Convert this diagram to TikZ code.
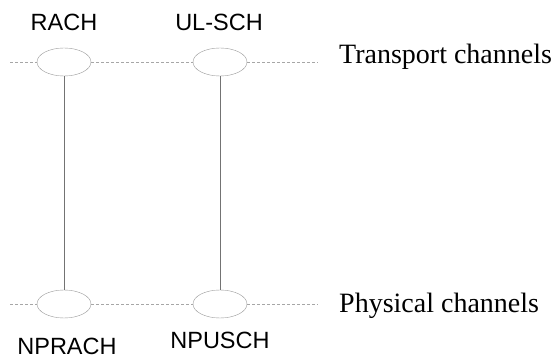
\documentclass[tikz,border=0pt]{standalone}
\usepackage{fontspec}
\setmainfont{Liberation Serif}
\setsansfont{Liberation Sans}
\usetikzlibrary{shapes.geometric, positioning}

\tikzset{
    canale/.style = {ellipse, draw = gray!80, minimum width = 54pt, minimum height = 28pt, inner sep = 0pt},
    livello/.style = {dashed, dash pattern = on 3pt off 2pt, draw = gray!70, line width = 0.6pt},
    legame/.style = {draw = gray!90!black, line width = 0.6pt},
    nome/.style = {font = \sffamily\fontsize{23.5}{25}\selectfont, inner sep = 0pt},
    strato/.style = {font = \fontsize{28}{30}\selectfont, anchor = west, inner sep = 0pt}
}

\begin{document}
\begin{tikzpicture}[x = 1pt, y = -1pt]
    % Parametri (aiuto)
    \pgfmathsetmacro{\ytr}{62}
    \pgfmathsetmacro{\yph}{304}
    \useasboundingbox (0,0) rectangle (555,358);
    % canali di trasporto
    \coordinate (trA) at (10,\ytr);
    \coordinate (trB) at (318,\ytr);
    \node[canale] (rach) at (64,\ytr) {};
    \node[canale] (ulsch) at (220,\ytr) {};
    \node[nome] (rachT) at (64,22) {RACH};
    \node[nome] (ulschT) at (219,22) {UL-SCH};
    \node[strato] (trT) at (339,57) {Transport channels};
    % canali fisici
    \coordinate (phA) at (10,\yph);
    \coordinate (phB) at (318,\yph);
    \node[canale] (nprach) at (64,\yph) {};
    \node[canale] (npusch) at (220,\yph) {};
    \node[nome] (nprachT) at (67,346) {NPRACH};
    \node[nome] (npuschT) at (220,340) {NPUSCH};
    \node[strato] (phT) at (339,306) {Physical channels};
    % linee
    \draw[livello] (trA) -- (rach.west);
    \draw[livello] (rach.east) -- (ulsch.west);
    \draw[livello] (ulsch.east) -- (trB);
    \draw[livello] (phA) -- (nprach.west);
    \draw[livello] (nprach.east) -- (npusch.west);
    \draw[livello] (npusch.east) -- (phB);
    \draw[legame] (rach.south) -- (nprach.north);
    \draw[legame] (ulsch.south) -- (npusch.north);
\end{tikzpicture}
\end{document}
